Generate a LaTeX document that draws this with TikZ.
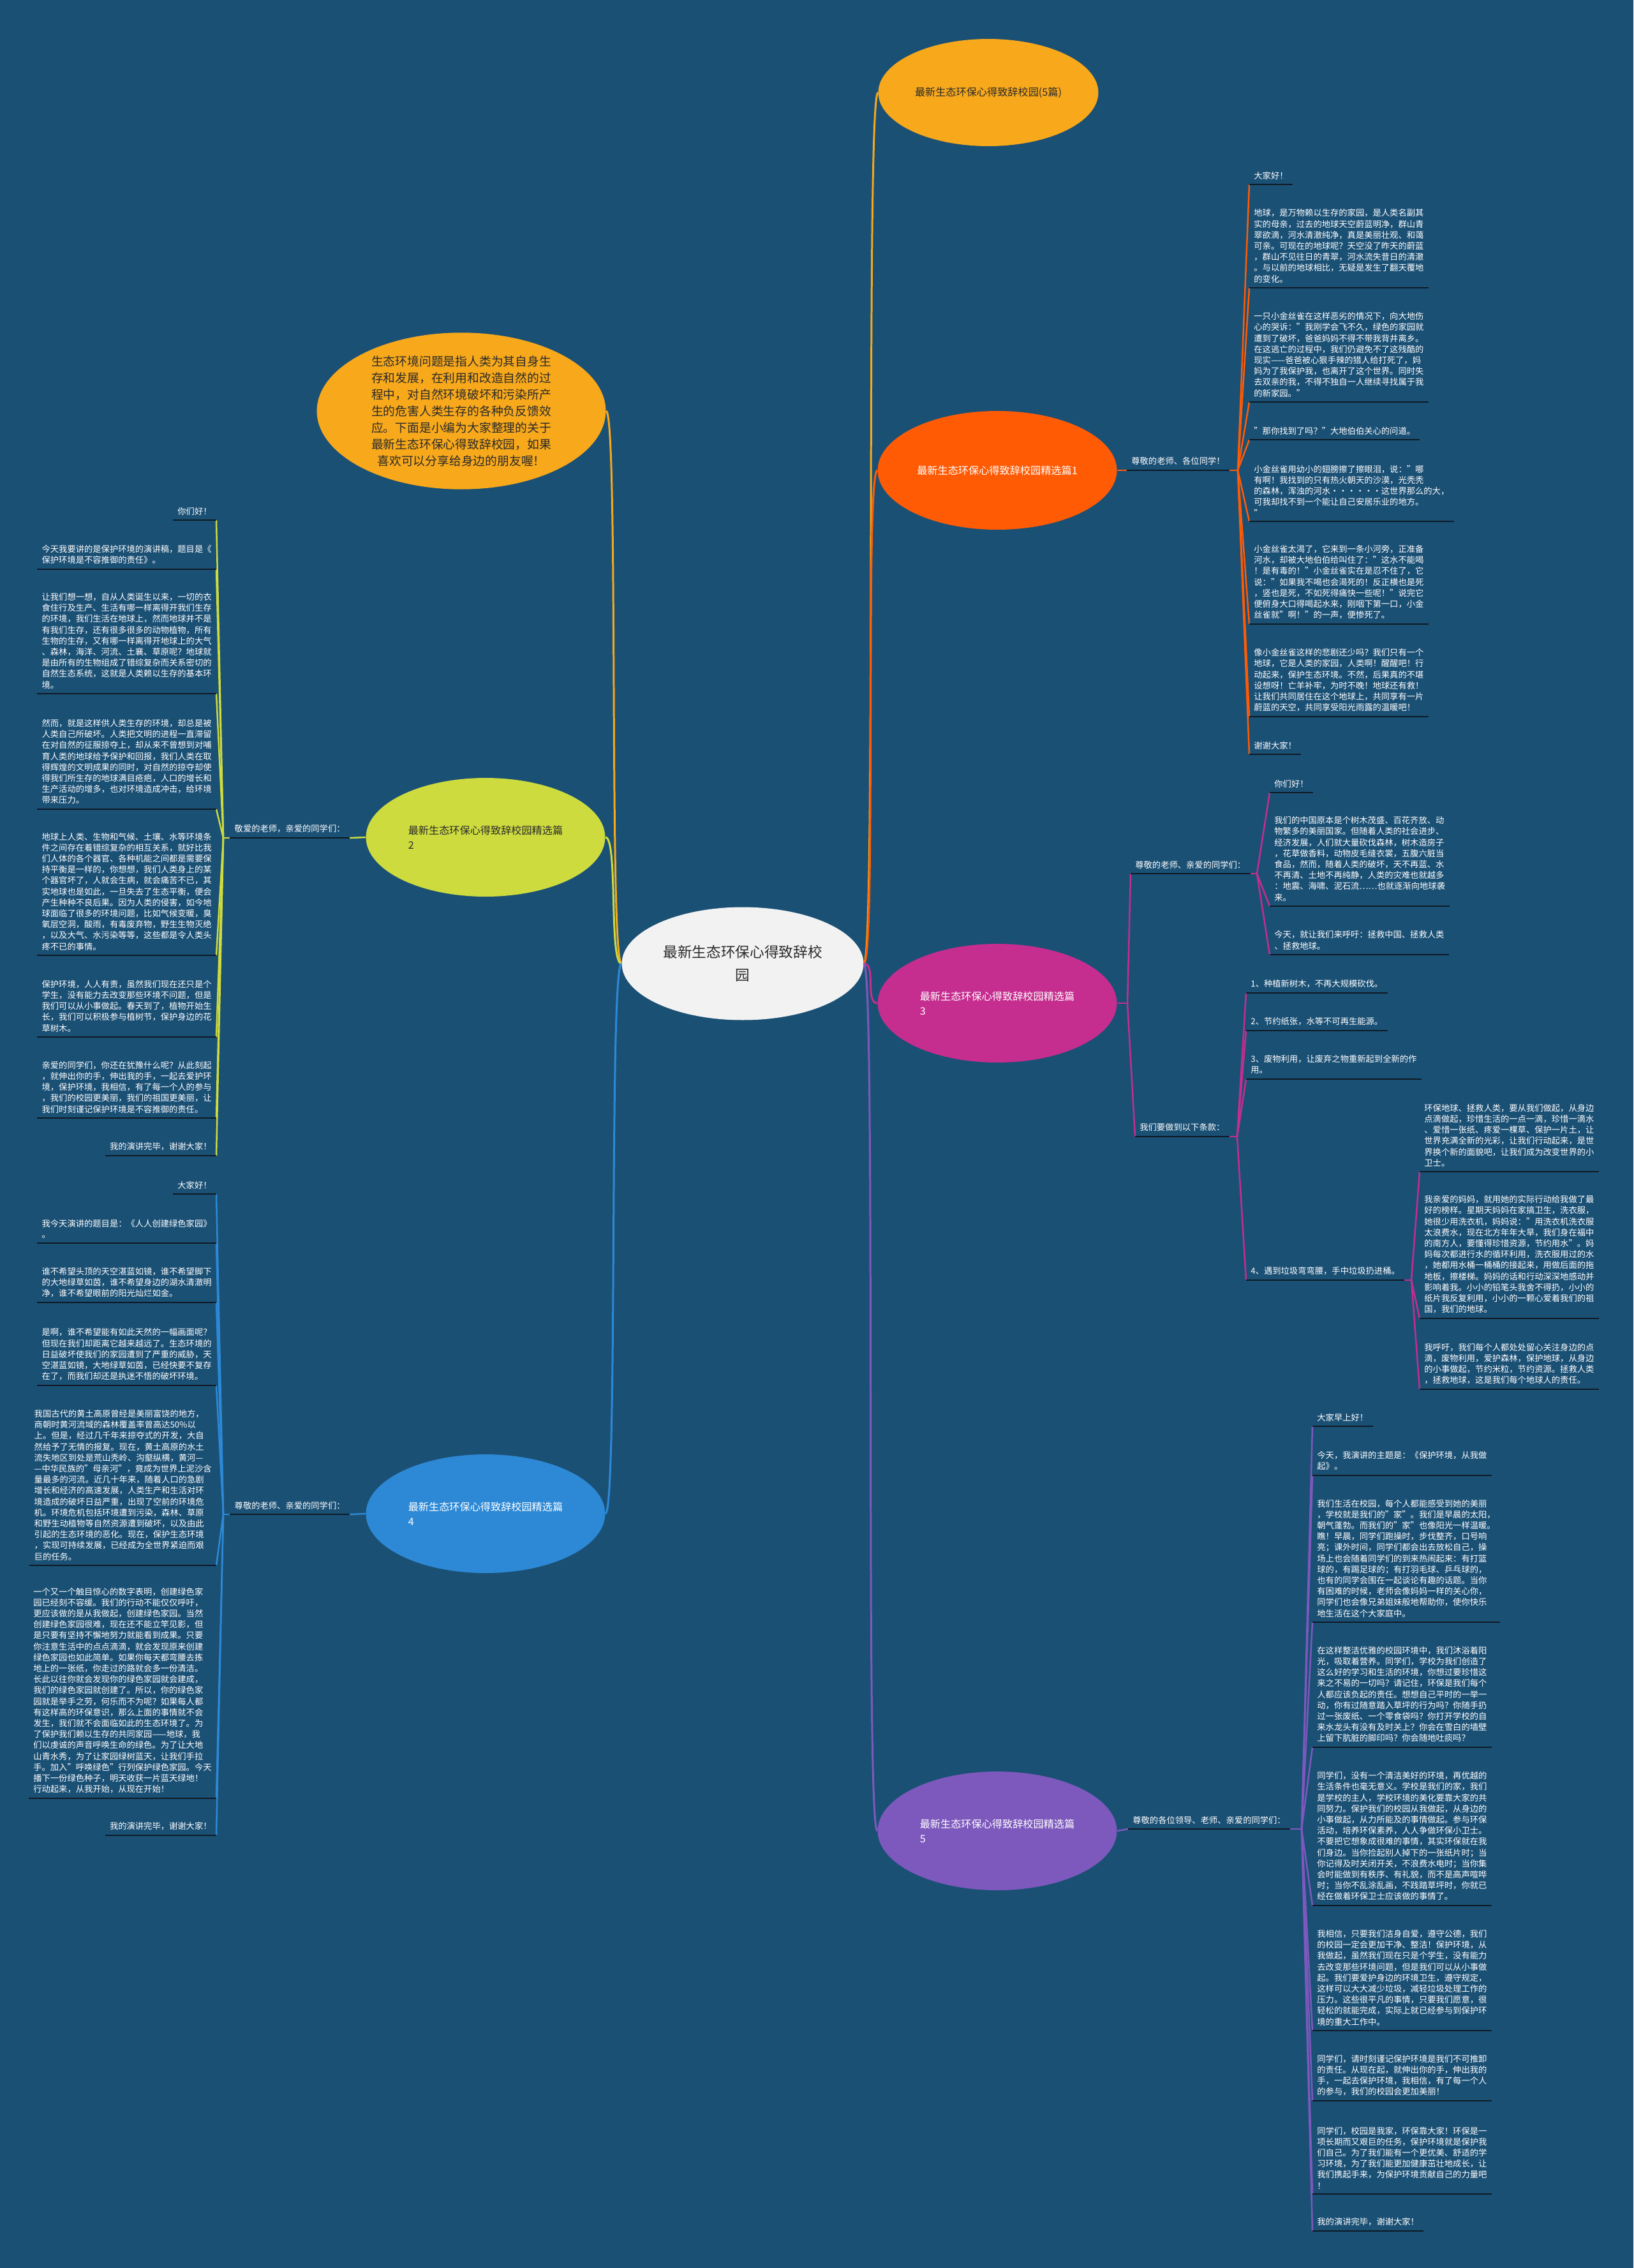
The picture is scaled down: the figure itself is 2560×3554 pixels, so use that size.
\documentclass[tikz,border=0pt]{standalone}
\usepackage{fontspec}
\setmainfont{Noto Sans CJK SC}
\usetikzlibrary{shapes.geometric}
\definecolor{cBg}{HTML}{1B5075}
\definecolor{cUnder}{HTML}{0E1A24}
\definecolor{cText}{HTML}{FFFFFF}
\definecolor{cTextDark}{HTML}{2B2B2B}
\definecolor{cRoot}{HTML}{F2F2F2}
\definecolor{cAmber}{HTML}{F7A81B}
\definecolor{cOne}{HTML}{FF5B05}
\definecolor{cTwo}{HTML}{CDDB3F}
\definecolor{cThree}{HTML}{C52D8F}
\definecolor{cFour}{HTML}{2D89D6}
\definecolor{cFive}{HTML}{7D59BD}
\newcommand{\leaffont}{\fontsize{7.57}{9.79}\selectfont}
\newcommand{\branchfont}{\fontsize{9.2}{12.9}\selectfont}
\newcommand{\rootfont}{\fontsize{12.9}{20.5}\selectfont}
\newcommand{\introfont}{\fontsize{10.7}{14.8}\selectfont}

\begin{document}
\begin{tikzpicture}[
    x=0.02cm, y=-0.02cm,
    % Text blocks with a rule under them
    leaf_box/.style={rectangle, align=left, inner xsep=4pt, inner ysep=4.3pt, font=\leaffont, text=cText},
    leaf_r/.style={leaf_box, anchor=south west},
    leaf_l/.style={leaf_box, anchor=south east},
    under_line/.style={draw=cUnder, line width=1.4pt},
    % Ellipses
    branch_ell/.style={ellipse, inner sep=0pt, minimum width=7.5cm, minimum height=3.72cm, align=left, font=\branchfont, text=cText},
    root_ell/.style={ellipse, inner sep=0pt, minimum width=7.58cm, minimum height=3.54cm, fill=cRoot, align=center, font=\rootfont, text=cTextDark},
    % Connectors
    link/.style={line width=1.4pt},
    main_link/.style={line width=1.7pt}
]
\fill[cBg] (0,0) rectangle (2560,3554);

% --- MAIN NODES ---
\node[root_ell] (root) at (1164,1510) {最新生态环保心得致辞校\\园};
\node[branch_ell, fill=cAmber, text=cTextDark, minimum width=6.9cm, minimum height=3.36cm] (top) at (1549,145) {最新生态环保心得致辞校园(5篇)};
\node[branch_ell, fill=cAmber, text=cTextDark, minimum width=9.06cm, minimum height=4.54cm, align=center, font=\introfont] (intro) at (723,644) {生态环境问题是指人类为其自身生\\存和发展，在利用和改造自然的过\\程中，对自然环境破坏和污染所产\\生的危害人类生存的各种负反馈效\\应。下面是小编为大家整理的关于\\最新生态环保心得致辞校园，如果\\喜欢可以分享给身边的朋友喔！};
\node[branch_ell, fill=cOne] (p1) at (1563,737) {最新生态环保心得致辞校园精选篇1};
\node[branch_ell, fill=cTwo, text=cTextDark] (p2) at (761,1312) {最新生态环保心得致辞校园精选篇\\2};
\node[branch_ell, fill=cThree] (p3) at (1563,1572) {最新生态环保心得致辞校园精选篇\\3};
\node[branch_ell, fill=cFour] (p4) at (761,2372) {最新生态环保心得致辞校园精选篇\\4};
\node[branch_ell, fill=cFive] (p5) at (1563,2869) {最新生态环保心得致辞校园精选篇\\5};

\foreach \n/\c in {top/cAmber, p1/cOne, p3/cThree, p5/cFive}
  \draw[main_link, draw=\c] (root.east) .. controls +(20,0) and +(-20,0) .. (\n.west);
\foreach \n/\c in {intro/cAmber, p2/cTwo, p4/cFour}
  \draw[main_link, draw=\c] (root.west) .. controls +(-20,0) and +(20,0) .. (\n.east);

% --- BRANCH 1 ---
\node[leaf_r] (l1) at (1766,737) {尊敬的老师、各位同学！};
\coordinate (j1) at (1940,737);
\node[leaf_r] (p1a) at (1958,289) {大家好！};
\node[leaf_r] (p1b) at (1958,451) {地球，是万物赖以生存的家园，是人类名副其\\实的母亲，过去的地球天空蔚蓝明净，群山青\\翠欲滴，河水清澈纯净，真是美丽壮观、和蔼\\可亲。可现在的地球呢？天空没了昨天的蔚蓝\\，群山不见往日的青翠，河水流失昔日的清澈\\。与以前的地球相比，无疑是发生了翻天覆地\\的变化。};
\node[leaf_r] (p1c) at (1958,630) {一只小金丝雀在这样恶劣的情况下，向大地伤\\心的哭诉："我刚学会飞不久，绿色的家园就\\遭到了破坏，爸爸妈妈不得不带我背井离乡。\\在这逃亡的过程中，我们仍避免不了这残酷的\\现实——爸爸被心狠手辣的猎人给打死了，妈\\妈为了我保护我，也离开了这个世界。同时失\\去双亲的我，不得不独自一人继续寻找属于我\\的新家园。"};
\node[leaf_r] (p1d) at (1958,689) {"那你找到了吗？"大地伯伯关心的问道。};
\node[leaf_r] (p1e) at (1958,817) {小金丝雀用幼小的翅膀擦了擦眼泪，说："哪\\有啊！我找到的只有热火朝天的沙漠，光秃秃\\的森林，浑浊的河水······这世界那么的大，\\可我却找不到一个能让自己安居乐业的地方。\\"};
\node[leaf_r] (p1f) at (1958,978) {小金丝雀太渴了，它来到一条小河旁，正准备\\河水，却被大地伯伯给叫住了："这水不能喝\\！是有毒的！"小金丝雀实在是忍不住了，它\\说："如果我不喝也会渴死的！反正横也是死\\，竖也是死，不如死得痛快一些呢！"说完它\\便俯身大口得喝起水来，刚咽下第一口，小金\\丝雀就"啊！"的一声，便惨死了。};
\node[leaf_r] (p1g) at (1958,1123) {像小金丝雀这样的悲剧还少吗？我们只有一个\\地球，它是人类的家园，人类啊！醒醒吧！行\\动起来，保护生态环境。不然，后果真的不堪\\设想呀！亡羊补牢，为时不晚！地球还有救！\\让我们共同居住在这个地球上，共同享有一片\\蔚蓝的天空，共同享受阳光雨露的温暖吧！};
\node[leaf_r] (p1h) at (1958,1182) {谢谢大家！};

\draw[link, draw=cOne] (p1.east) -- (l1.south west);
\draw[link, draw=cOne] (l1.south east) -- (j1);
\foreach \n in {p1a,p1b,p1c,p1d,p1e,p1f,p1g,p1h}
  \draw[link, draw=cOne] (j1) -- (\n.south west);

% --- BRANCH 3 ---
\coordinate (j3) at (1767,1572);
\node[leaf_r] (l3a) at (1772,1369) {尊敬的老师、亲爱的同学们：};
\coordinate (j3a) at (1970,1369);
\node[leaf_r] (p3a) at (1990,1242) {你们好！};
\node[leaf_r] (p3b) at (1990,1420) {我们的中国原本是个树木茂盛、百花齐放、动\\物繁多的美丽国家。但随着人类的社会进步、\\经济发展，人们就大量砍伐森林，树木造房子\\，花草做香料，动物皮毛缝衣裳，五腹六脏当\\食品，然而，随着人类的破坏，天不再蓝、水\\不再清、土地不再纯静，人类的灾难也就越多\\：地震、海啸、泥石流……也就逐渐向地球袭\\来。};
\node[leaf_r] (p3c) at (1990,1496) {今天，就让我们来呼吁：拯救中国、拯救人类\\、拯救地球。};

\node[leaf_r] (l3b) at (1779,1781) {我们要做到以下条款：};
\coordinate (j3b) at (1939,1781);
\node[leaf_r] (p3d) at (1953,1556) {1、种植新树木，不再大规模砍伐。};
\node[leaf_r] (p3e) at (1953,1615) {2、节约纸张，水等不可再生能源。};
\node[leaf_r] (p3f) at (1953,1691) {3、废物利用，让废弃之物重新起到全新的作\\用。};
\node[leaf_r] (p3g) at (1953,2006) {4、遇到垃圾弯弯腰，手中垃圾扔进桶。};

\coordinate (j3c) at (2212,2006);
\node[leaf_r] (p3h) at (2225,1836) {环保地球、拯救人类，要从我们做起，从身边\\点滴做起，珍惜生活的一点一滴，珍惜一滴水\\、爱惜一张纸、疼爱一棵草、保护一片土，让\\世界充满全新的光彩，让我们行动起来，是世\\界换个新的面貌吧，让我们成为改变世界的小\\卫士。};
\node[leaf_r] (p3i) at (2225,2066) {我亲爱的妈妈，就用她的实际行动给我做了最\\好的榜样。星期天妈妈在家搞卫生，洗衣服，\\她很少用洗衣机，妈妈说："用洗衣机洗衣服\\太浪费水，现在北方年年大旱，我们身在福中\\的南方人，要懂得珍惜资源，节约用水"。妈\\妈每次都进行水的循环利用，洗衣服用过的水\\，她都用水桶一桶桶的接起来，用做后面的拖\\地板，擦楼梯。妈妈的话和行动深深地感动并\\影响着我。小小的铅笔头我舍不得扔，小小的\\纸片我反复利用，小小的一颗心爱着我们的祖\\国，我们的地球。};
\node[leaf_r] (p3j) at (2225,2177) {我呼吁，我们每个人都处处留心关注身边的点\\滴，废物利用，爱护森林，保护地球，从身边\\的小事做起，节约米粒，节约资源。拯救人类\\，拯救地球，这是我们每个地球人的责任。};

\draw[link, draw=cThree] (p3.east) -- (j3);
\foreach \n in {l3a,l3b}
  \draw[link, draw=cThree] (j3) -- (\n.south west);
\draw[link, draw=cThree] (l3a.south east) -- (j3a);
\foreach \n in {p3a,p3b,p3c}
  \draw[link, draw=cThree] (j3a) -- (\n.south west);
\draw[link, draw=cThree] (l3b.south east) -- (j3b);
\foreach \n in {p3d,p3e,p3f,p3g}
  \draw[link, draw=cThree] (j3b) -- (\n.south west);
\draw[link, draw=cThree] (p3g.south east) -- (j3c);
\foreach \n in {p3h,p3i,p3j}
  \draw[link, draw=cThree] (j3c) -- (\n.south west);

% --- BRANCH 5 ---
\node[leaf_r] (l5) at (1768,2866) {尊敬的各位领导、老师、亲爱的同学们：};
\coordinate (j5) at (2040,2866);
\node[leaf_r] (p5a) at (2057,2235) {大家早上好！};
\node[leaf_r] (p5b) at (2057,2312) {今天，我演讲的主题是：《保护环境，从我做\\起》。};
\node[leaf_r] (p5c) at (2057,2542) {我们生活在校园，每个人都能感受到她的美丽\\，学校就是我们的"家"。我们是早晨的太阳，\\朝气蓬勃。而我们的"家"也像阳光一样温暖。\\瞧！早晨，同学们跑操时，步伐整齐，口号响\\亮；课外时间，同学们都会出去放松自己，操\\场上也会随着同学们的到来热闹起来：有打篮\\球的，有踢足球的；有打羽毛球、乒乓球的，\\也有的同学会围在一起谈论有趣的话题。当你\\有困难的时候，老师会像妈妈一样的关心你，\\同学们也会像兄弟姐妹般地帮助你，使你快乐\\地生活在这个大家庭中。};
\node[leaf_r] (p5d) at (2057,2738) {在这样整洁优雅的校园环境中，我们沐浴着阳\\光，吸取着营养。同学们，学校为我们创造了\\这么好的学习和生活的环境，你想过要珍惜这\\来之不易的一切吗？请记住，环保是我们每个\\人都应该负起的责任。想想自己平时的一举一\\动，你有过随意踏入草坪的行为吗？你随手扔\\过一张废纸、一个零食袋吗？你打开学校的自\\来水龙头有没有及时关上？你会在雪白的墙壁\\上留下肮脏的脚印吗？你会随地吐痰吗？};
\node[leaf_r] (p5e) at (2057,2986) {同学们，没有一个清洁美好的环境，再优越的\\生活条件也毫无意义。学校是我们的家，我们\\是学校的主人，学校环境的美化要靠大家的共\\同努力。保护我们的校园从我做起，从身边的\\小事做起，从力所能及的事情做起。参与环保\\活动，培养环保素养，人人争做环保小卫士。\\不要把它想象成很难的事情，其实环保就在我\\们身边。当你捡起别人掉下的一张纸片时；当\\你记得及时关闭开关，不浪费水电时；当你集\\会时能做到有秩序、有礼貌，而不是高声喧哗\\时；当你不乱涂乱画，不践踏草坪时，你就已\\经在做着环保卫士应该做的事情了。};
\node[leaf_r] (p5f) at (2057,3182) {我相信，只要我们洁身自爱，遵守公德，我们\\的校园一定会更加干净、整洁！保护环境，从\\我做起，虽然我们现在只是个学生，没有能力\\去改变那些环境问题，但是我们可以从小事做\\起。我们要爱护身边的环境卫生，遵守规定，\\这样可以大大减少垃圾，减轻垃圾处理工作的\\压力。这些很平凡的事情，只要我们愿意，很\\轻松的就能完成，实际上就已经参与到保护环\\境的重大工作中。};
\node[leaf_r] (p5g) at (2057,3292) {同学们，请时刻谨记保护环境是我们不可推卸\\的责任。从现在起，就伸出你的手，伸出我的\\手，一起去保护环境，我相信，有了每一个人\\的参与，我们的校园会更加美丽！};
\node[leaf_r] (p5h) at (2057,3438) {同学们，校园是我家，环保靠大家！环保是一\\项长期而又艰巨的任务，保护环境就是保护我\\们自己。为了我们能有一个更优美、舒适的学\\习环境，为了我们能更加健康茁壮地成长，让\\我们携起手来，为保护环境贡献自己的力量吧\\！};
\node[leaf_r] (p5i) at (2057,3496) {我的演讲完毕，谢谢大家！};

\draw[link, draw=cFive] (p5.east) -- (l5.south west);
\draw[link, draw=cFive] (l5.south east) -- (j5);
\foreach \n in {p5a,p5b,p5c,p5d,p5e,p5f,p5g,p5h,p5i}
  \draw[link, draw=cFive] (j5) -- (\n.south west);

% --- BRANCH 2 ---
\node[leaf_l] (l2) at (548,1313) {敬爱的老师，亲爱的同学们：};
\coordinate (j2) at (350,1313);
\node[leaf_l] (p2a) at (339,815) {你们好！};
\node[leaf_l] (p2b) at (339,892) {今天我要讲的是保护环境的演讲稿，题目是《\\保护环境是不容推御的责任》。};
\node[leaf_l] (p2c) at (339,1087) {让我们想一想，自从人类诞生以来，一切的衣\\食住行及生产、生活有哪一样离得开我们生存\\的环境，我们生活在地球上，然而地球并不是\\有我们生存，还有很多很多的动物植物，所有\\生物的生存，又有哪一样离得开地球上的大气\\、森林，海洋、河流、土襄、草原呢？地球就\\是由所有的生物组成了错综复杂而关系密切的\\自然生态系统，这就是人类赖以生存的基本环\\境。};
\node[leaf_l] (p2d) at (339,1268) {然而，就是这样供人类生存的环境，却总是被\\人类自己所破坏。人类把文明的进程一直滞留\\在对自然的征服掠夺上，却从来不曾想到对哺\\育人类的地球给予保护和回报，我们人类在取\\得辉煌的文明成果的同时，对自然的掠夺却使\\得我们所生存的地球满目疮疤，人口的增长和\\生产活动的增多，也对环境造成冲击，给环境\\带来压力。};
\node[leaf_l] (p2e) at (339,1497) {地球上人类、生物和气候、土壤、水等环境条\\件之间存在着错综复杂的相互关系，就好比我\\们人体的各个器官、各种机能之间都是需要保\\持平衡是一样的，你想想，我们人类身上的某\\个器官坏了，人就会生病，就会痛苦不已，其\\实地球也是如此，一旦失去了生态平衡，便会\\产生种种不良后果。因为人类的侵害，如今地\\球面临了很多的环境问题，比如气候变暖，臭\\氧层空洞，酸雨，有毒废弃物，野生生物灭绝\\，以及大气、水污染等等，这些都是令人类头\\疼不已的事情。};
\node[leaf_l] (p2f) at (339,1625) {保护环境，人人有责，虽然我们现在还只是个\\学生，没有能力去改变那些环境不问题，但是\\我们可以从小事做起。春天到了，植物开始生\\长，我们可以积极参与植树节，保护身边的花\\草树木。};
\node[leaf_l] (p2g) at (339,1752) {亲爱的同学们，你还在犹豫什么呢？从此刻起\\，就伸出你的手，伸出我的手，一起去爱护环\\境，保护环境，我相信，有了每一个人的参与\\，我们的校园更美丽，我们的祖国更美丽，让\\我们时刻谨记保护环境是不容推御的责任。};
\node[leaf_l] (p2h) at (339,1811) {我的演讲完毕，谢谢大家！};

\draw[link, draw=cTwo] (p2.west) -- (l2.south east);
\draw[link, draw=cTwo] (l2.south west) -- (j2);
\foreach \n in {p2a,p2b,p2c,p2d,p2e,p2f,p2g,p2h}
  \draw[link, draw=cTwo] (j2) -- (\n.south east);

% --- BRANCH 4 ---
\node[leaf_l] (l4) at (548,2373) {尊敬的老师、亲爱的同学们：};
\coordinate (j4) at (350,2373);
\node[leaf_l] (p4a) at (339,1871) {大家好！};
\node[leaf_l] (p4b) at (339,1948) {我今天演讲的题目是：《人人创建绿色家园》\\。};
\node[leaf_l] (p4c) at (339,2041) {谁不希望头顶的天空湛蓝如镜，谁不希望脚下\\的大地绿草如茵，谁不希望身边的湖水清澈明\\净，谁不希望眼前的阳光灿烂如金。};
\node[leaf_l] (p4d) at (339,2171) {是啊，谁不希望能有如此天然的一幅画面呢？\\但现在我们却距离它越来越远了。生态环境的\\日益破坏使我们的家园遭到了严重的威胁，天\\空湛蓝如镜，大地绿草如茵，已经快要不复存\\在了，而我们却还是执迷不悟的破坏环境。};
\node[leaf_l] (p4e) at (339,2453) {我国古代的黄土高原曾经是美丽富饶的地方，\\商朝时黄河流域的森林覆盖率曾高达50\%以\\上。但是，经过几千年来掠夺式的开发，大自\\然给予了无情的报复。现在，黄土高原的水土\\流失地区到处是荒山秃岭、沟壑纵横，黄河—\\—中华民族的"母亲河"，竟成为世界上泥沙含\\量最多的河流。近几十年来，随着人口的急剧\\增长和经济的高速发展，人类生产和生活对环\\境造成的破坏日益严重，出现了空前的环境危\\机。环境危机包括环境遭到污染，森林、草原\\和野生动植物等自然资源遭到破坏，以及由此\\引起的生态环境的恶化。现在，保护生态环境\\，实现可持续发展，已经成为全世界紧迫而艰\\巨的任务。};
\node[leaf_l] (p4f) at (339,2818) {一个又一个触目惊心的数字表明，创建绿色家\\园已经刻不容缓。我们的行动不能仅仅呼吁，\\更应该做的是从我做起，创建绿色家园。当然\\创建绿色家园很难，现在还不能立竿见影，但\\是只要有坚持不懈地努力就能看到成果。只要\\你注意生活中的点点滴滴，就会发现原来创建\\绿色家园也如此简单。如果你每天都弯腰去拣\\地上的一张纸，你走过的路就会多一份清洁。\\长此以往你就会发现你的绿色家园就会建成，\\我们的绿色家园就创建了。所以，你的绿色家\\园就是举手之劳，何乐而不为呢？如果每人都\\有这样高的环保意识，那么上面的事情就不会\\发生，我们就不会面临如此的生态环境了。为\\了保护我们赖以生存的共同家园——地球，我\\们以虔诚的声音呼唤生命的绿色。为了让大地\\山青水秀，为了让家园绿树蓝天，让我们手拉\\手。加入"呼唤绿色"行列保护绿色家园。今天\\播下一份绿色种子，明天收获一片蓝天绿地！\\行动起来，从我开始，从现在开始！};
\node[leaf_l] (p4g) at (339,2876) {我的演讲完毕，谢谢大家！};

\draw[link, draw=cFour] (p4.west) -- (l4.south east);
\draw[link, draw=cFour] (l4.south west) -- (j4);
\foreach \n in {p4a,p4b,p4c,p4d,p4e,p4f,p4g}
  \draw[link, draw=cFour] (j4) -- (\n.south east);

% --- RULES UNDER THE TEXT BLOCKS ---
\foreach \n in {l1,p1a,p1b,p1c,p1d,p1e,p1f,p1g,p1h,
                l3a,l3b,p3a,p3b,p3c,p3d,p3e,p3f,p3g,p3h,p3i,p3j,
                l5,p5a,p5b,p5c,p5d,p5e,p5f,p5g,p5h,p5i,
                l2,p2a,p2b,p2c,p2d,p2e,p2f,p2g,p2h,
                l4,p4a,p4b,p4c,p4d,p4e,p4f,p4g}
  \draw[under_line] (\n.south west) -- (\n.south east);

\end{tikzpicture}
\end{document}
